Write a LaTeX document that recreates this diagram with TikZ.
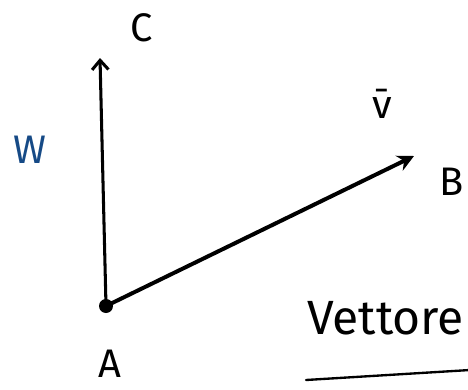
\documentclass[tikz,border=0pt]{standalone}
\usepackage{fontspec}
\setmainfont{Fira Sans}
\usetikzlibrary{arrows.meta}

\definecolor{penblue}{RGB}{22,74,134}

\tikzset{
    pen/.style={line width=3.4pt, line cap=round, line join=round},
    hand/.style={font=\fontsize{34}{40}\selectfont}
}

\begin{document}
\begin{tikzpicture}[x=0.03cm, y=-0.03cm]

        \clip (0, 0) rectangle (468, 390);
        \useasboundingbox (0, 0) rectangle (468, 390);

        \coordinate (A) at (106, 306);
        \coordinate (C) at (100, 58);
        \coordinate (B) at (414, 156);

        \draw[pen, line width=2.6pt, -{Straight Barb[length=8pt, width=14pt]}] (A) -- (C);
        \draw[pen, -{Stealth[length=14pt, width=14pt]}] (A) -- (B);
        \fill (A) circle (7);

        \node[hand] (labC) at (142, 28) {C};
        \node[hand, penblue] (labW) at (30, 150) {W};
        \node[hand] (labv) at (382, 104) {\=v};
        \node[hand] (labB) at (452, 182) {B};
        \node[hand] (labA) at (110, 364) {A};

        \node[font=\fontsize{41}{48}\selectfont, anchor=base west] (vett) at (303, 334) {Vettore};
        \coordinate (u1) at (306, 380);
        \coordinate (u2) at (470, 370);
        \draw[line width=2pt, line cap=round] (u1) -- (u2);
    \end{tikzpicture}
\end{document}
